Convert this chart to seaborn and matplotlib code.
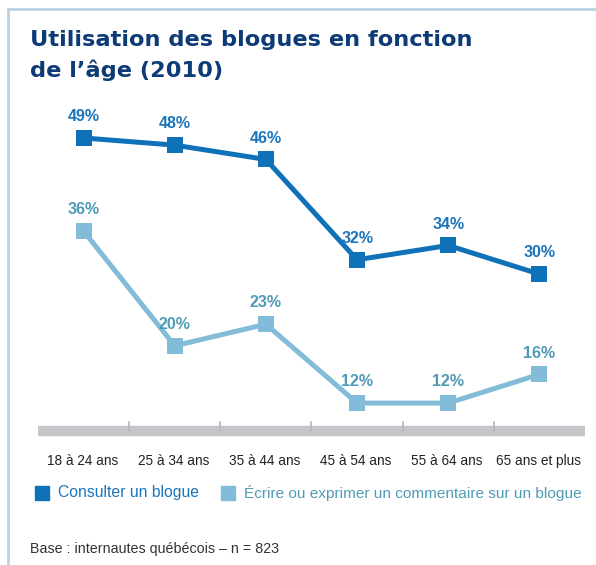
import pandas as pd
import numpy as np
import matplotlib.pyplot as plt
import seaborn as sns
from matplotlib.lines import Line2D

# data
age_groups = ["18 à 24 ans", "25 à 34 ans", "35 à 44 ans", "45 à 54 ans", "55 à 64 ans", "65 ans et plus"]
consulter = [49, 48, 46, 32, 34, 30]
ecrire = [36, 20, 23, 12, 12, 16]
series_names = ["Consulter un blogue", "Écrire ou exprimer un commentaire sur un blogue"]

dark = "#0f71b8"
light = "#83bcd8"
dark_txt = "#1b75bb"
light_txt = "#4f9bb6"
navy = "#0d3b77"

sns.set_style("white")
plt.rcParams['font.family'] = ['Liberation Sans', 'DejaVu Sans']

df = pd.DataFrame({
    "age": age_groups * 2,
    "pct": consulter + ecrire,
    "serie": [series_names[0]] * 6 + [series_names[1]] * 6,
})

fig = plt.figure(figsize=(5.96, 5.65), dpi=100)
ax = fig.add_axes([38 / 596, 1 - 431 / 565, (585 - 38) / 596, (431 - 100) / 565])

sns.lineplot(data=df, x="age", y="pct", hue="serie", palette=[dark, light],
             marker="s", markersize=12, markeredgewidth=0, linewidth=3.6,
             legend=False, ax=ax)

ax.set_xlim(-0.5, 5.5)
ax.set_ylim(8.1, 54.3)
for s in ax.spines.values():
    s.set_visible(False)
ax.set_yticks([])
ax.set_xticks([])
ax.set_xlabel("")
ax.set_ylabel("")

# gray axis band with small separators
ax.axhline(8.1, color="#c4c6c9", lw=7.5, clip_on=False, zorder=1, solid_capstyle="butt")
for b in np.arange(0.5, 5, 1):
    ax.plot([b, b], [8.1, 9.3], color="#b8babd", lw=1.3, clip_on=False, zorder=1)

# value labels
for i, (a, b) in enumerate(zip(consulter, ecrire)):
    ax.annotate(f"{a}%", (i, a), xytext=(0, 10), textcoords="offset points",
                ha="center", va="bottom", color=dark_txt, fontsize=11.5, fontweight="bold")
    ax.annotate(f"{b}%", (i, b), xytext=(0, 10), textcoords="offset points",
                ha="center", va="bottom", color=light_txt, fontsize=11.5, fontweight="bold")

# category labels
for i, lab in enumerate(age_groups):
    fig.text((83 + 91 * i) / 596, 1 - 461 / 565, lab, ha="center", va="center",
             fontsize=9.8, color="#222222")

# legend
fig.patches.append(plt.Rectangle((35 / 596, 1 - 500 / 565), 14 / 596, 14 / 565,
                                 transform=fig.transFigure, color=dark))
fig.text(58 / 596, 1 - 493 / 565, series_names[0], ha="left", va="center",
         fontsize=11.3, color=dark_txt)
fig.patches.append(plt.Rectangle((221 / 596, 1 - 500 / 565), 14 / 596, 14 / 565,
                                 transform=fig.transFigure, color=light))
fig.text(244 / 596, 1 - 493 / 565, series_names[1], ha="left", va="center",
         fontsize=11.1, color=light_txt)

# title and footer
fig.text(30 / 596, 1 - 40 / 565, "Utilisation des blogues en fonction", ha="left", va="center",
         fontsize=16.2, fontweight="bold", color=navy, family="DejaVu Sans")
fig.text(30 / 596, 1 - 70 / 565, "de l’âge (2010)", ha="left", va="center",
         fontsize=16.2, fontweight="bold", color=navy, family="DejaVu Sans")
fig.text(30 / 596, 1 - 549 / 565, "Base : internautes québécois – n = 823", ha="left", va="center",
         fontsize=10.3, color="#333333")

# frame lines top and left
fig.add_artist(Line2D([8 / 596, 1], [1 - 9 / 565, 1 - 9 / 565], transform=fig.transFigure,
                      color="#b9d3e0", lw=2))
fig.add_artist(Line2D([8 / 596, 8 / 596], [0, 1 - 9 / 565], transform=fig.transFigure,
                      color="#b9d3e0", lw=2))

fig.savefig("out.png", dpi=100)
